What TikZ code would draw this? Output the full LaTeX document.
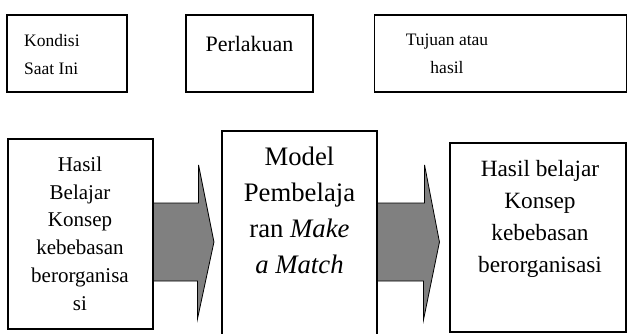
\documentclass[tikz,border=0pt]{standalone}
\usepackage{fontspec}
\setmainfont{Liberation Serif}
\usetikzlibrary{calc}

\tikzset{
  box/.style={draw, line width=1.1pt, inner sep=0pt},
  teks/.style={inner sep=0pt},
  panah/.style={draw, fill=black!50, line width=0.8pt, line join=miter}
}

\begin{document}
\begin{tikzpicture}[x=1pt, y=-1pt]
			%%%%% START %%%%%
			
			\useasboundingbox (0,0) rectangle (628,334);
			
			% kotak atas
			\node[box, minimum width=120pt, minimum height=77pt] (kondisi) at (67,53.5) {};
			\node[box, minimum width=127pt, minimum height=77pt] (perlakuan) at (249.5,53.5) {};
			\node[box, minimum width=252pt, minimum height=77pt] (tujuan) at (500.5,53.5) {};
			
			\node[teks, font=\fontsize{17.5}{28}\selectfont, align=left, anchor=base west] (tkondisi) at (24,75) {Kondisi\\Saat Ini};
			\node[teks, font=\fontsize{22}{26}\selectfont, anchor=base] (tperlakuan) at (249.5,52) {Perlakuan};
			\node[teks, font=\fontsize{17.5}{28}\selectfont, align=center, anchor=base] (ttujuan) at (447,74) {Tujuan atau\\hasil};
			
			% kotak bawah
			\node[box, minimum width=145pt, minimum height=190pt] (awal) at (80.5,234) {};
			\node[box, minimum width=155pt, minimum height=220pt] (model) at (299.5,241) {};
			\node[box, minimum width=176pt, minimum height=189pt] (akhir) at (538,237.5) {};
			
			\node[teks, font=\fontsize{21}{27.7}\selectfont, align=center, anchor=base] (tawal) at (80,310) {Hasil\\Belajar\\Konsep\\kebebasan\\berorganisa\\si};
			\node[teks, font=\fontsize{26.7}{36}\selectfont, align=center, anchor=base] (tmodel) at (299.5,273) {Model\\Pembelaja\\ran \textit{Make}\\\textit{a Match}};
			\node[teks, font=\fontsize{23.3}{31.7}\selectfont, align=center, anchor=base] (takhir) at (540,272) {Hasil belajar\\Konsep\\kebebasan\\berorganisasi};
			
			% panah
			\draw[panah] ($(awal.east)+(0,-31)$) -- ++(45,0) -- ++(0,-38) -- ($(model.west)+(-7.5,1)$) -- ++(-16.5,77) -- ++(0,-38) -- ($(awal.east)+(0,47)$) -- cycle;
			\draw[panah] ($(model.east)+(0,-38)$) -- ++(47,0) -- ++(0,-38) -- ($(akhir.west)+(-10,4.5)$) -- ++(-16,78) -- ++(0,-39) -- ($(model.east)+(0,40)$) -- cycle;
			
			%%%%% END %%%%%
\end{tikzpicture}
\end{document}
